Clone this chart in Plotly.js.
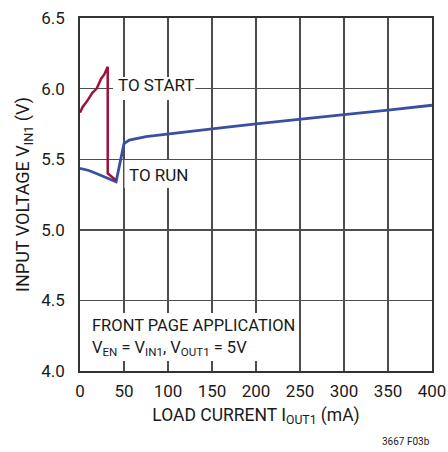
<!DOCTYPE html>
<html>
<head>
<meta charset="utf-8">
<script src="https://cdn.plot.ly/plotly-3.0.1.min.js"></script>
<style>html,body{margin:0;padding:0;background:#fff;}#chart{width:448px;height:452px;}</style>
</head>
<body>
<div id="chart"></div>
<script>
// Data
var runCurrent = [0, 10, 20, 30, 41, 50, 56, 75, 100, 150, 200, 250, 300, 350, 400];
var runVoltage = [5.435, 5.42, 5.395, 5.37, 5.34, 5.61, 5.635, 5.66, 5.68, 5.715, 5.75, 5.78, 5.815, 5.848, 5.882];
var startCurrent = [0, 3, 9, 14, 19, 21, 24, 27.6, 30.3, 31.5, 31.5, 36, 41];
var startVoltage = [5.83, 5.87, 5.92, 5.97, 6.0, 6.03, 6.07, 6.10, 6.14, 6.155, 5.40, 5.376, 5.35];
var xTicks = [0, 50, 100, 150, 200, 250, 300, 350, 400];
var yTicks = [4.0, 4.5, 5.0, 5.5, 6.0, 6.5];

var FONT = '"Roboto", "Liberation Sans", sans-serif';
var TXT = '#1a1a1a';

var traces = [
  {x: runCurrent, y: runVoltage, mode: 'lines', line: {color: '#3a4fa2', width: 2.8}, hoverinfo: 'none'},
  {x: startCurrent, y: startVoltage, mode: 'lines', line: {color: '#a0103c', width: 2.5}, hoverinfo: 'none'}
];

var layout = {
  width: 448, height: 452,
  margin: {l: 80, r: 16, t: 18, b: 81},
  paper_bgcolor: '#fff', plot_bgcolor: '#fff',
  showlegend: false,
  font: {family: FONT, size: 17, color: TXT},
  xaxis: {
    range: [0, 400], tickvals: xTicks, ticktext: xTicks.map(String),
    showgrid: true, gridcolor: '#4d4d4d', gridwidth: 1.4,
    showline: true, mirror: true, linecolor: '#333', linewidth: 1.8,
    ticks: '', zeroline: false, ticklabelstandoff: 4,
    tickfont: {family: FONT, size: 17, color: TXT},
    title: {text: 'LOAD CURRENT I<sub>OUT1</sub> (mA)', font: {family: FONT, size: 17.5, color: TXT}, standoff: 8}
  },
  yaxis: {
    range: [4, 6.5], tickvals: yTicks, ticktext: yTicks.map(function(v){return v.toFixed(1);}),
    showgrid: true, gridcolor: '#4d4d4d', gridwidth: 1.4,
    showline: true, mirror: true, linecolor: '#333', linewidth: 1.8,
    ticks: '', zeroline: false, ticklabelstandoff: 10,
    tickfont: {family: FONT, size: 17, color: TXT},
    title: {text: 'INPUT VOLTAGE V<sub>IN1</sub> (V)', font: {family: FONT, size: 18, color: TXT}, standoff: 7}
  },
  shapes: [
    {type: 'rect', layer: 'between', xref: 'x', yref: 'y', x0: 37.5, x1: 131, y0: 5.919, y1: 6.082, fillcolor: '#fff', line: {width: 0}},
    {type: 'rect', layer: 'between', xref: 'x', yref: 'y', x0: 50.5, x1: 136.5, y0: 5.296, y1: 5.495, fillcolor: '#fff', line: {width: 0}},
    {type: 'rect', layer: 'between', xref: 'x', yref: 'y', x0: 0, x1: 247, y0: 4.071, y1: 4.411, fillcolor: '#fff', line: {width: 0}}
  ],
  annotations: [
    {text: 'TO START', x: 86.4, y: 6.029, xref: 'x', yref: 'y', showarrow: false, xanchor: 'center', yanchor: 'middle', font: {family: FONT, size: 17, color: TXT}},
    {text: 'TO RUN', x: 89.5, y: 5.388, xref: 'x', yref: 'y', showarrow: false, xanchor: 'center', yanchor: 'middle', font: {family: FONT, size: 17, color: TXT}},
    {text: 'FRONT PAGE APPLICATION', x: 11.4, y: 4.319, xref: 'x', yref: 'y', showarrow: false, xanchor: 'left', yanchor: 'middle', font: {family: FONT, size: 16.5, color: TXT}},
    {text: 'V<sub>EN</sub> = V<sub>IN1</sub>, V<sub>OUT1</sub> = 5V', x: 11.4, y: 4.156, xref: 'x', yref: 'y', showarrow: false, xanchor: 'left', yanchor: 'middle', font: {family: FONT, size: 16.5, color: TXT}},
    {text: '3667 F03b', xref: 'paper', yref: 'paper', showarrow: false, font: {family: FONT, size: 10, color: TXT},
     x: (432 - 80) / (448 - 96), xanchor: 'right', y: -(441 - 371) / (452 - 99), yanchor: 'middle'}
  ]
};

Plotly.newPlot('chart', traces, layout, {staticPlot: true, displayModeBar: false});
</script>
</body>
</html>
